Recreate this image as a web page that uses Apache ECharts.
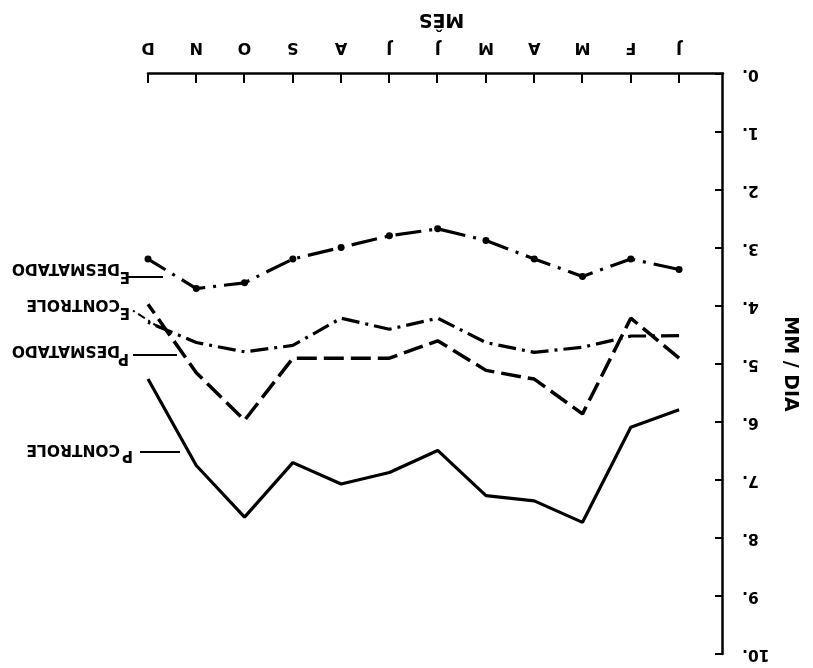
<!DOCTYPE html>
<html>
<head>
<meta charset="utf-8">
<script src="https://cdn.jsdelivr.net/npm/echarts@6/dist/echarts.min.js"></script>
<style>
  html, body { margin: 0; padding: 0; background: #fff; }
  #wrap { width: 813px; height: 668px; transform: rotate(180deg); transform-origin: 50% 50%; }
  #chart { width: 813px; height: 668px; }
</style>
</head>
<body>
<div id="wrap"><div id="chart"></div></div>
<script>
// Months (x = 1..12)
const months = ['J', 'F', 'M', 'A', 'M', 'J', 'J', 'A', 'S', 'O', 'N', 'D'];
const monthIdx = [1, 2, 3, 4, 5, 6, 7, 8, 9, 10, 11, 12];
// Evaporation / precipitation series (mm/dia)
const eDesmatado = [3.37, 3.19, 3.49, 3.19, 2.87, 2.67, 2.79, 2.99, 3.19, 3.60, 3.70, 3.19];
const eControle  = [4.51, 4.52, 4.71, 4.80, 4.63, 4.21, 4.40, 4.21, 4.68, 4.79, 4.63, 4.28];
const pDesmatado = [4.90, 4.21, 5.86, 5.26, 5.11, 4.60, 4.90, 4.90, 4.90, 5.97, 5.15, 3.97];
const pControle  = [5.79, 6.09, 7.73, 7.36, 7.27, 6.49, 6.87, 7.07, 6.70, 7.64, 6.75, 5.26];
const yTicks = [0, 1, 2, 3, 4, 5, 6, 7, 8, 9, 10];

function pairs(vals) { return monthIdx.map((m, i) => [m, vals[i]]); }

const FONT = '"DejaVu Sans", sans-serif';
const chart = echarts.init(document.getElementById('chart'), null, { renderer: 'canvas' });

function label(x, y, main, sub, subDy) {
  return [
    { type: 'text', style: { text: main, x: x, y: y, font: 'bold 15px ' + FONT, fill: '#000', textAlign: 'left', textVerticalAlign: 'middle', align: 'left', verticalAlign: 'middle' } },
    { type: 'text', style: { text: sub, x: 693, y: y + subDy, font: 'bold 15.5px ' + FONT, fill: '#000', textAlign: 'left', textVerticalAlign: 'middle', align: 'left', verticalAlign: 'middle' } }
  ];
}

const option = {
  backgroundColor: '#fff',
  animation: false,
  grid: { left: 90, top: 14, width: 575, height: 580 },
  xAxis: {
    type: 'value', min: 0.09, max: 12,
    name: 'MÊS', nameLocation: 'middle', nameGap: 46,
    nameTextStyle: { fontFamily: FONT, fontWeight: 'bold', fontSize: 19, color: '#000', padding: [0, 12, 0, 0] },
    axisLine: { show: true, lineStyle: { color: '#000', width: 2.5 } },
    axisTick: { show: true, inside: true, length: 9, customValues: monthIdx, lineStyle: { color: '#000', width: 2 } },
    axisLabel: { customValues: monthIdx, margin: 19, formatter: v => months[Math.round(v) - 1] || '',
      fontFamily: FONT, fontWeight: 'bold', fontSize: 16, color: '#000' },
    splitLine: { show: false }
  },
  yAxis: {
    type: 'value', min: 0, max: 10, interval: 1,
    name: 'MM / DIA', nameLocation: 'middle', nameRotate: 90, nameGap: 56,
    nameTextStyle: { fontFamily: FONT, fontWeight: 'bold', fontSize: 19, color: '#000' },
    axisLine: { show: true, lineStyle: { color: '#000', width: 2.5 } },
    axisTick: { show: true, inside: true, length: 8, lineStyle: { color: '#000', width: 2 } },
    axisLabel: { margin: 19, formatter: v => v + '.', fontFamily: FONT, fontWeight: 'bold', fontSize: 15.5, color: '#000' },
    splitLine: { show: false }
  },
  series: [
    { name: 'E DESMATADO', type: 'line', data: pairs(eDesmatado), symbol: 'circle', symbolSize: 7,
      itemStyle: { color: '#000' }, lineStyle: { color: '#000', width: 3.2, type: [26, 8, 3, 8] } },
    { name: 'E CONTROLE', type: 'line', data: pairs(eControle), symbol: 'none',
      lineStyle: { color: '#000', width: 3.2, type: [18, 6, 3, 6] } },
    { name: 'P DESMATADO', type: 'line', data: pairs(pDesmatado), symbol: 'none',
      lineStyle: { color: '#000', width: 3.5, type: [20, 7] } },
    { name: 'P CONTROLE', type: 'line', data: pairs(pControle), symbol: 'none',
      lineStyle: { color: '#000', width: 3.2, type: 'solid' } }
  ],
  graphic: [
    { type: 'line', shape: { x1: 650, y1: 391, x2: 685, y2: 391 }, style: { stroke: '#000', lineWidth: 2 } },
    { type: 'line', shape: { x1: 653, y1: 340, x2: 681, y2: 358 }, style: { stroke: '#000', lineWidth: 2, lineDash: [8, 4, 2, 4] } },
    { type: 'line', shape: { x1: 636, y1: 313, x2: 680, y2: 313 }, style: { stroke: '#000', lineWidth: 2 } },
    { type: 'line', shape: { x1: 633, y1: 216, x2: 673, y2: 216 }, style: { stroke: '#000', lineWidth: 2 } }
  ].concat(
    label(683, 392, 'E', 'DESMATADO', 8),
    label(683, 356, 'E', 'CONTROLE', 8),
    label(684, 310, 'P', 'DESMATADO', 8),
    label(680, 213, 'P', 'CONTROLE', 6)
  )
};
chart.setOption(option);
</script>
</body>
</html>
